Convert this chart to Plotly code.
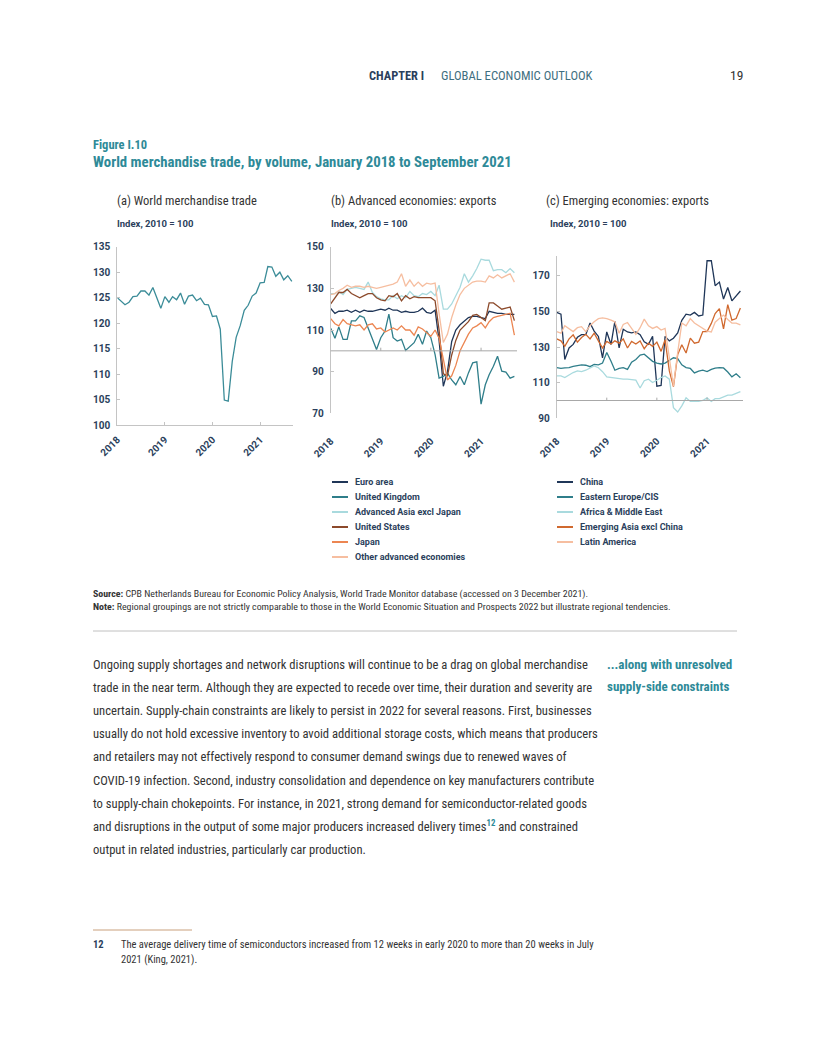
import pandas as pd
import plotly.graph_objects as go

# ---------------- data ----------------
months = pd.date_range("2018-01-01", "2021-09-01", freq="MS")
year_ticks = ["2018-01-01", "2019-01-01", "2020-01-01", "2021-01-01"]
year_labels = ["2018", "2019", "2020", "2021"]

world_trade = [125.0, 124.3, 123.6, 124.1, 125.2, 125.3, 126.3, 126.3, 125.5, 127.0, 125.1, 122.9,
               125.2, 124.1, 125.2, 124.6, 125.9, 123.7, 125.3, 125.5, 124.4, 124.9, 123.7, 123.6,
               121.3, 121.4, 118.8, 104.9, 104.7, 112.5, 117.2, 119.5, 122.5, 123.5, 125.3, 125.9,
               127.9, 128.0, 131.1, 131.0, 129.2, 130.0, 128.5, 129.3, 128.2]

euro_area = [120.3, 118, 119, 119, 119.5, 118.5, 119.5, 118.5, 119.5, 119, 119, 119.5,
             120, 119.5, 120.5, 119.5, 119.5, 118.5, 119, 118.5, 118.5, 119, 120.5, 118.5,
             118, 119.5, 105, 83, 90, 104.5, 110, 112.5, 114.5, 116, 116.5, 116.5,
             116, 115.5, 119, 118.5, 118, 118, 117.5, 117.5, 117.5]
united_kingdom = [110.8, 106, 111.5, 105.5, 105.5, 114.4, 114.4, 116.8, 116, 110.8, 106, 100.6,
                  106.3, 109.5, 117.6, 106.3, 104.7, 105.5, 100.2, 102.3, 103.9, 107.9, 103.1, 109.5,
                  106.3, 98.2, 86.9, 87.7, 89.4, 86, 83.7, 87.7, 83.7, 89.4, 94.2, 94.7,
                  74.4, 83.7, 88.5, 92.6, 97.4, 90.2, 89.8, 86.9, 87.7]
adv_asia_excl_japan = [127.5, 127.5, 128.5, 127, 129.5, 130, 130.5, 130, 129.5, 133, 128, 126,
                       125, 124.5, 124.5, 126.5, 125, 126.5, 125.5, 128.5, 126.5, 126, 127.5, 127,
                       128.5, 126.5, 131.5, 120, 120, 122.5, 126.5, 130.5, 137, 133, 136, 139.5,
                       144, 143.5, 143.5, 138.5, 139, 139, 137.5, 139.5, 137.5]
united_states = [122.5, 125.5, 128, 128, 129.5, 127.5, 126.5, 125.5, 126.5, 127.5, 127.5, 125.5,
                 124.5, 124, 126.5, 126, 127.5, 124, 126.5, 125, 126, 125.5, 125.5, 125.5,
                 125.5, 124, 110, 89, 88, 98, 105, 110, 112, 114, 117, 117.5,
                 116, 114.5, 123, 123, 121.5, 120, 120.5, 121, 114.5]
japan = [115.5, 113, 112, 115, 113, 112.5, 112, 112.5, 110, 112.5, 113, 110.5,
         111, 109, 110, 111, 110, 112, 110, 110, 107.5, 111.5, 110.5, 109,
         107, 110, 106, 96, 86, 88, 93, 100, 104, 108, 111, 112,
         113.5, 111, 114, 116, 116.5, 117, 117.5, 118, 107.5]
other_advanced = [127, 127.5, 129, 130, 131.5, 130.5, 131, 131, 130.5, 131, 130.5, 130,
                  130.5, 131, 131.5, 132, 133, 137, 131, 134, 131, 133, 131, 132.5,
                  132, 132.5, 118, 104, 108, 116, 122, 127, 130, 131.5, 133, 133.5,
                  133.5, 133, 136, 135, 136.5, 135, 136, 137, 133]

china = [149.5, 148.5, 123, 129.5, 131.5, 135.5, 137, 137, 143.5, 139, 136, 124,
         138.5, 131.5, 144.5, 129.5, 140, 138.5, 138, 138.5, 137, 133, 131.5, 136,
         108, 108.5, 136, 133.5, 135, 138, 145, 148.5, 148, 149.5, 147.5, 148,
         178.5, 178.5, 164.5, 166.5, 157, 163.5, 156, 159, 161.5]
eastern_europe_cis = [118.5, 118, 118.3, 118.5, 119.2, 119.8, 120, 119.8, 119, 120.3, 120, 121,
                      127, 122, 117, 118, 118.5, 117.5, 121.5, 123, 125.5, 126, 124, 122,
                      121, 120.5, 121, 122.5, 124, 123.5, 120, 118.5, 118, 115.5, 116.5, 117,
                      116.2, 117.5, 118.2, 118.5, 118.3, 116, 113.3, 115, 112.8]
africa_middle_east = [113.8, 113.8, 112.9, 114.4, 115.7, 116.6, 116.2, 117, 118.4, 119.4, 118.4, 116.2,
                      113.3, 112.9, 112.9, 112.4, 112, 112, 111.6, 111.4, 107, 111.1, 112, 110.1,
                      111.4, 112.9, 113.8, 112, 96, 93.5, 97, 101.5, 99.5, 99.5, 99.5, 100,
                      101.5, 99.5, 101, 101, 102, 103, 103, 104, 105]
emerging_asia_excl_china = [134.6, 133.5, 130.4, 134.6, 136.9, 132.8, 135.4, 137.2, 134.6, 137.8, 133.5, 129.5,
                            133.2, 131.7, 133.5, 132.2, 134.6, 129.5, 133.2, 131.7, 133.5, 129.1, 132.2, 130.4,
                            132.8, 127.6, 134.1, 116.6, 107.8, 125.8, 131.3, 126.7, 135, 132.2, 132.8, 138.7,
                            138.7, 143.3, 148.8, 151.6, 140.2, 153.8, 145.1, 146, 152]
latin_america = [138.7, 137.8, 142, 140.2, 138.7, 140.9, 141.5, 138.7, 142, 144.2, 146, 146.4,
                 146, 145.1, 144.2, 137.8, 142.7, 143.8, 140.5, 137.2, 140.9, 145.7, 142, 140.5,
                 141.5, 139.6, 140.5, 125, 108, 127, 143.5, 142, 146, 143.5, 142, 141,
                 139, 138.5, 144, 146, 148, 145.5, 143.5, 143.5, 142.5]

adv_names = ["Euro area", "United Kingdom", "Advanced Asia excl Japan", "United States", "Japan",
             "Other advanced economies"]
adv_series = [euro_area, united_kingdom, adv_asia_excl_japan, united_states, japan, other_advanced]
emg_names = ["China", "Eastern Europe/CIS", "Africa & Middle East", "Emerging Asia excl China", "Latin America"]
emg_series = [china, eastern_europe_cis, africa_middle_east, emerging_asia_excl_china, latin_america]

ticks_a = [100, 105, 110, 115, 120, 125, 130, 135]
ticks_b = [70, 90, 110, 130, 150]
ticks_c = [90, 110, 130, 150, 170]

# ---------------- styles ----------------
NAVY = "#2b3f5c"
TEAL = "#2e8a98"
TXT = "#333333"
AX = "#c4c4c4"
WORLD_COLOR = "#3b8c98"
adv_colors = ["#1f3658", "#2f7e8a", "#a9dade", "#8c4a2b", "#ec8652", "#f6bea0"]
emg_colors = ["#1f3658", "#2f7e8a", "#a9dade", "#d0692f", "#f6bea0"]
FONT = "Roboto"
COND = "Roboto Condensed, Archivo Narrow, Roboto"

W, H = 816, 1056
OFF = 8  # page body margin of the browser page
def fx(x):
    return (x - OFF) / W
def fy(y):
    return 1 - (y - OFF) / H

fig = go.Figure()
fig.add_trace(go.Scatter(x=months, y=world_trade, mode="lines", line=dict(color=WORLD_COLOR, width=1.3),
                         xaxis="x", yaxis="y", showlegend=False, hoverinfo="skip"))
for n, s, c in zip(adv_names, adv_series, adv_colors):
    fig.add_trace(go.Scatter(x=months, y=s, name=n, mode="lines", line=dict(color=c, width=1.3),
                             xaxis="x2", yaxis="y2", showlegend=False, hoverinfo="skip"))
for n, s, c in zip(emg_names, emg_series, emg_colors):
    fig.add_trace(go.Scatter(x=months, y=s, name=n, mode="lines", line=dict(color=c, width=1.3),
                             xaxis="x3", yaxis="y3", showlegend=False, hoverinfo="skip"))

tickfont = dict(family=FONT, size=10, color=NAVY, weight="bold")

def xaxis(dom, anchor, end, standoff, line):
    return dict(domain=dom, anchor=anchor, type="date", range=["2018-01-01", end],
                tickvals=year_ticks, ticktext=year_labels, tickangle=-45, tickfont=tickfont,
                showgrid=False, zeroline=False, showline=line, linecolor=AX, linewidth=1,
                ticks="inside" if line else "", ticklen=3, tickcolor=AX, automargin=False,
                ticklabelstandoff=standoff, fixedrange=True)

def yaxis(dom, anchor, rng, tv):
    return dict(domain=dom, anchor=anchor, range=rng, tickvals=tv, tickfont=tickfont,
                showgrid=False, zeroline=False, showline=True, linecolor=AX, linewidth=1,
                ticks="inside", ticklen=3, tickcolor=AX, ticklabelstandoff=4, automargin=False,
                fixedrange=True)

fig.update_layout(
    width=W, height=H, margin=dict(l=0, r=0, t=0, b=0, pad=0, autoexpand=False),
    paper_bgcolor="white", plot_bgcolor="white", showlegend=False,
    xaxis=xaxis([fx(117.3), fx(293)], "y", "2021-09-10", 4, True),
    yaxis=yaxis([fy(425), fy(246.7)], "x", [100, 135], ticks_a),
    xaxis2=xaxis([fx(330.7), fx(517)], "y2", "2021-09-20", 19, False),
    yaxis2=yaxis([fy(413.3), fy(246.7)], "x2", [70, 150], ticks_b),
    xaxis3=xaxis([fx(556.7), fx(743)], "y3", "2021-09-20", 14, False),
    yaxis3=yaxis([fy(418.3), fy(256.3)], "x3", [90, 181], ticks_c),
)

shapes = []
for xr, yr, tl in (("x2", "y2", 1.5), ("x3", "y3", 1.6)):
    shapes.append(dict(type="line", xref=xr + " domain", yref=yr, x0=0, x1=1, y0=100, y1=100,
                       line=dict(color="#a8a8a8", width=1)))
    for t in year_ticks[1:]:
        shapes.append(dict(type="line", xref=xr, yref=yr, x0=t, x1=t, y0=100, y1=100 + tl,
                           line=dict(color="#a8a8a8", width=1)))

anns = []
def ann(text, x, y, size, color=TXT, bold=False, xanchor="left", family=FONT):
    anns.append(dict(text=text, x=fx(x), y=fy(y), xref="paper", yref="paper", xanchor=xanchor,
                     yanchor="middle", showarrow=False,
                     font=dict(family=family, size=size, color=color, weight="bold" if bold else "normal")))

# header
ann("CHAPTER I", 426, 75, 12.4, NAVY, True, "right", COND)
ann("GLOBAL ECONOMIC OUTLOOK", 439, 75, 12.6, "#3f6f80", False, "left", COND)
ann("19", 745, 75, 13.5, TXT, False, "right", COND)
ann("Figure I.10", 91, 144, 12.5, TEAL, True, "left", COND)
ann("World merchandise trade, by volume, January 2018 to September 2021", 91, 162, 14.8, TEAL, True, "left", COND)

for t, x in (("(a) World merchandise trade", 115), ("(b) Advanced economies: exports", 329),
             ("(c) Emerging economies: exports", 544)):
    ann(t, x, 200, 12.5, TXT, False, "left", COND)
for x in (115, 329, 548):
    ann("Index, 2010 = 100", x, 223, 9.5, NAVY, True)

for names, colors, lx in ((adv_names, adv_colors, 332), (emg_names, emg_colors, 557)):
    for i, (n, c) in enumerate(zip(names, colors)):
        yy = 482 + 15 * i
        shapes.append(dict(type="line", xref="paper", yref="paper", x0=fx(lx), x1=fx(lx + 16),
                           y0=fy(yy), y1=fy(yy), line=dict(color=c, width=2)))
        ann(n, lx + 21, yy, 9.0, NAVY, True)

ann("<b>Source:</b> CPB Netherlands Bureau for Economic Policy Analysis, World Trade Monitor database (accessed on 3 December 2021).",
    91, 594, 9.9, TXT, False, "left", COND)
ann("<b>Note:</b> Regional groupings are not strictly comparable to those in the World Economic Situation and Prospects 2022 but illustrate regional tendencies.",
    91, 606, 9.9, TXT, False, "left", COND)
shapes.append(dict(type="line", xref="paper", yref="paper", x0=fx(93), x1=fx(737), y0=fy(631), y1=fy(631),
                   line=dict(color="#c0c0c0", width=1)))

body = [
    "Ongoing supply shortages and network disruptions will continue to be a drag on global merchandise",
    "trade in the near term. Although they are expected to recede over time, their duration and severity are",
    "uncertain. Supply-chain constraints are likely to persist in 2022 for several reasons. First, businesses",
    "usually do not hold excessive inventory to avoid additional storage costs, which means that producers",
    "and retailers may not effectively respond to consumer demand swings due to renewed waves of",
    "COVID-19 infection. Second, industry consolidation and dependence on key manufacturers contribute",
    "to supply-chain chokepoints. For instance, in 2021, strong demand for semiconductor-related goods",
    "and disruptions in the output of some major producers increased delivery times<sup><span style='color:#2e8a98'><b>12</b></span></sup> and constrained",
    "output in related industries, particularly car production.",
]
for i, line in enumerate(body):
    ann(line, 91, 664 + 23.2 * i, 12.6, TXT, False, "left", COND)
ann("...along with unresolved", 605, 664, 13, TEAL, True, "left", COND)
ann("supply-side constraints", 605, 686, 13, TEAL, True, "left", COND)

shapes.append(dict(type="line", xref="paper", yref="paper", x0=fx(93), x1=fx(192), y0=fy(930), y1=fy(930),
                   line=dict(color="#c9a07c", width=1)))
ann("12", 91, 944, 10.5, NAVY, True, "left", COND)
ann("The average delivery time of semiconductors increased from 12 weeks in early 2020 to more than 20 weeks in July",
    119, 944, 10.5, TXT, False, "left", COND)
ann("2021 (King, 2021).", 119, 959, 10.5, TXT, False, "left", COND)

fig.update_layout(shapes=shapes, annotations=anns)
fig.write_html("out.html")
